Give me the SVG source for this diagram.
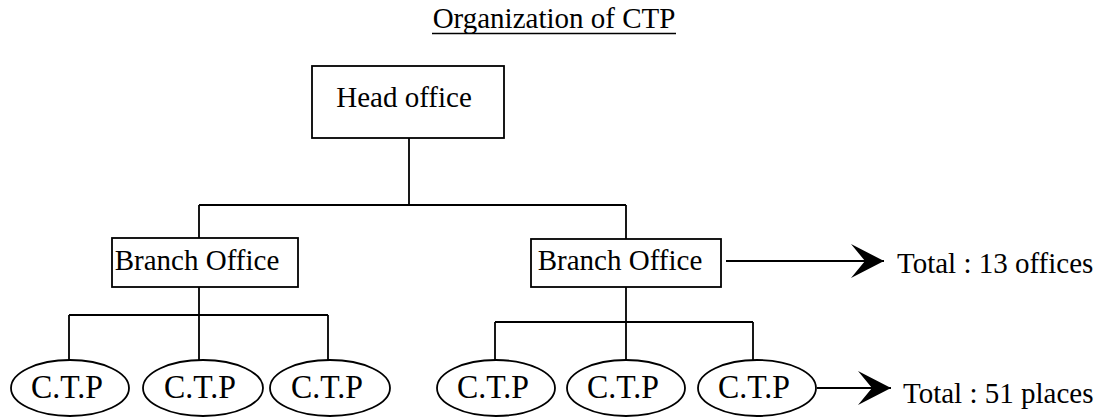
<svg xmlns="http://www.w3.org/2000/svg" width="1114" height="418" viewBox="0 0 1114 418">
  <style>
    .box{fill:#fff;stroke:#000;stroke-width:1.8}
    .ell{fill:#fff;stroke:#000;stroke-width:1.8}
    .ln{fill:none;stroke:#000;stroke-width:1.8}
    .t{font-family:"Liberation Serif","Times New Roman",serif;font-size:29px;fill:#000;text-anchor:middle}
    .c{font-family:"Liberation Serif","Times New Roman",serif;font-size:34px;fill:#000;text-anchor:middle}
    .l{font-family:"Liberation Serif","Times New Roman",serif;font-size:29px;fill:#000}
  </style>
  <defs>
    <marker id="arr" markerUnits="userSpaceOnUse" markerWidth="36" markerHeight="36" viewBox="-34 -18 36 36" refX="0" refY="0" orient="auto">
      <path d="M0,0 L-33,-17 L-19,0 L-33,17 Z" fill="#000"/>
    </marker>
  </defs>
  <rect width="1114" height="418" fill="#fff"/>
  <g id="title">
    <text class="t" x="554" y="28">Organization of CTP</text>
    <line x1="432" y1="33.5" x2="676" y2="33.5" stroke="#000" stroke-width="1.5"/>
  </g>
  <g id="connectors">
    <path class="ln" d="M409,138 V205 M199,205 H626 M199,205 V238 M626,205 V239"/>
    <path class="ln" d="M199,287 V315 M69,315 H328 M69,315 V360 M199,315 V360 M328,315 V360"/>
    <path class="ln" d="M626,287 V322 M495,322 H753 M495,322 V360 M626,322 V360 M753,322 V360"/>
    <line class="ln" x1="726" y1="261" x2="884" y2="261" marker-end="url(#arr)"/>
    <line class="ln" x1="817" y1="388" x2="891" y2="388" marker-end="url(#arr)"/>
  </g>
  <g id="head">
    <rect class="box" x="312" y="66" width="192" height="72"/>
    <text class="t" x="404" y="107">Head office</text>
  </g>
  <g id="branch1">
    <rect class="box" x="112" y="238" width="186" height="49"/>
    <text class="t" x="197" y="270">Branch Office</text>
  </g>
  <g id="branch2">
    <rect class="box" x="531" y="239" width="190" height="48"/>
    <text class="t" x="620" y="270">Branch Office</text>
  </g>
  <g id="ctp1"><ellipse class="ell" cx="70" cy="388" rx="59" ry="28"/><text class="c" x="67" y="398" textLength="72" lengthAdjust="spacingAndGlyphs">C.T.P</text></g>
  <g id="ctp2"><ellipse class="ell" cx="203" cy="388" rx="60" ry="28"/><text class="c" x="200" y="398" textLength="72" lengthAdjust="spacingAndGlyphs">C.T.P</text></g>
  <g id="ctp3"><ellipse class="ell" cx="330" cy="388" rx="60" ry="28"/><text class="c" x="327" y="398" textLength="72" lengthAdjust="spacingAndGlyphs">C.T.P</text></g>
  <g id="ctp4"><ellipse class="ell" cx="496" cy="388" rx="59" ry="28"/><text class="c" x="493" y="398" textLength="72" lengthAdjust="spacingAndGlyphs">C.T.P</text></g>
  <g id="ctp5"><ellipse class="ell" cx="626" cy="388" rx="59" ry="28"/><text class="c" x="623" y="398" textLength="72" lengthAdjust="spacingAndGlyphs">C.T.P</text></g>
  <g id="ctp6"><ellipse class="ell" cx="757" cy="388" rx="59" ry="28"/><text class="c" x="754" y="398" textLength="72" lengthAdjust="spacingAndGlyphs">C.T.P</text></g>
  <g id="total-offices"><text class="l" x="897" y="273">Total : 13 offices</text></g>
  <g id="total-places"><text class="l" x="903" y="403">Total : 51 places</text></g>
</svg>
